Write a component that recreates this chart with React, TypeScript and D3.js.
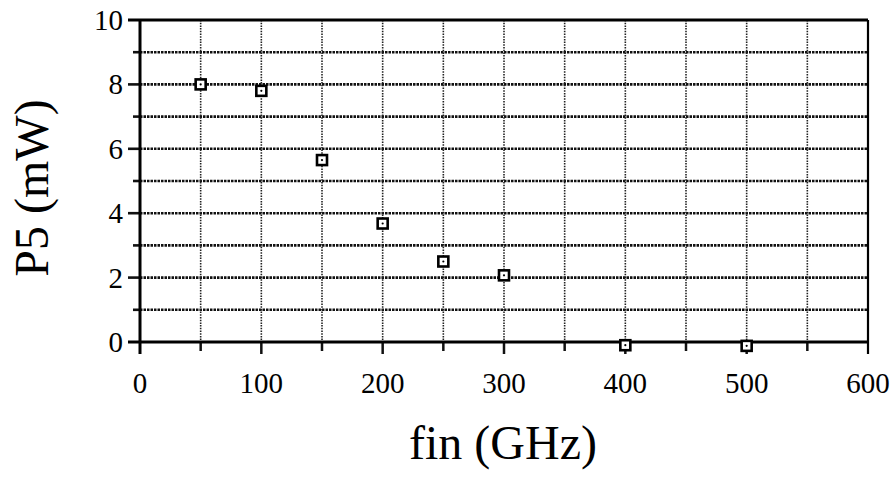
import React from "react";
import * as d3 from "d3";

const freqs = [50, 100, 150, 200, 250, 300, 400, 500];
const power = [8.0, 7.8, 5.65, 3.68, 2.5, 2.07, -0.1, -0.12];
const xTicks = [0, 100, 200, 300, 400, 500, 600];
const yTicks = [0, 2, 4, 6, 8, 10];

const App = () => {
  const width = 893;
  const height = 477;
  const margins = { top: 20, right: 25, bottom: 135, left: 140 };

  const xScale = d3
    .scaleLinear()
    .domain([0, 600])
    .range([margins.left, width - margins.right]);

  const yScale = d3
    .scaleLinear()
    .domain([0, 10])
    .range([height - margins.bottom, margins.top]);

  const serif = '"Liberation Serif", "DejaVu Serif", "Times New Roman", serif';
  const tickStyle = { fontFamily: serif, fontSize: "29px" };
  const titleStyle = { fontFamily: serif, fontSize: "48px" };
  const x0 = xScale(0);
  const x1 = xScale(600);
  const y0 = yScale(0);
  const y1 = yScale(10);

  const hGrid = d3.range(1, 10).map((v) => (
    <g key={`h${v}`}>
      <line
        x1={x0}
        x2={x1}
        y1={yScale(v)}
        y2={yScale(v)}
        stroke="#111"
        strokeWidth={2.6}
        strokeDasharray="2.5,1"
      />
      <line
        x1={x0 - (v % 2 === 0 ? 12 : 7)}
        x2={x0}
        y1={yScale(v)}
        y2={yScale(v)}
        stroke="#111"
        strokeWidth={2.6}
      />
    </g>
  ));

  const vGrid = d3.range(50, 600, 50).map((v) => (
    <g key={`v${v}`}>
      <line
        x1={xScale(v)}
        x2={xScale(v)}
        y1={y1}
        y2={y0}
        stroke="#222"
        strokeWidth={1.6}
        strokeDasharray="1.5,1.2"
      />
      <line
        x1={xScale(v)}
        x2={xScale(v)}
        y1={y0}
        y2={y0 + (v % 100 === 0 ? 12 : 9)}
        stroke="#111"
        strokeWidth={2.5}
      />
    </g>
  ));

  const markers = freqs.map((f, i) => (
    <g key={f} transform={`translate(${xScale(f)}, ${yScale(power[i])})`}>
      <rect x={-5} y={-5} width={10} height={10} fill="#fff" stroke="#000" strokeWidth={2.6} />
      <circle r={1.1} fill="#000" />
    </g>
  ));

  return (
    <svg
      width={width}
      height={height}
      style={{ position: "absolute", left: 0, top: 0, background: "#fff" }}
    >
      <g>{hGrid}</g>
      <g>{vGrid}</g>
      {/* frame */}
      <line x1={x0 - 12} x2={x1} y1={y1} y2={y1} stroke="#000" strokeWidth={3} />
      <line x1={x0 - 12} x2={x1} y1={y0} y2={y0} stroke="#000" strokeWidth={3} />
      <line x1={x0} x2={x0} y1={y1} y2={y0 + 12} stroke="#000" strokeWidth={3} />
      <line x1={x1} x2={x1} y1={y1} y2={y0 + 12} stroke="#000" strokeWidth={2.2} />

      {yTicks.map((t) => (
        <text key={`yt${t}`} style={tickStyle} x={x0 - 17} y={yScale(t) + 10} textAnchor="end">
          {t}
        </text>
      ))}
      {xTicks.map((t) => (
        <text key={`xt${t}`} style={tickStyle} x={xScale(t)} y={y0 + 51} textAnchor="middle">
          {t}
        </text>
      ))}

      <g>{markers}</g>

      <text style={titleStyle} x={503} y={459} textAnchor="middle">
        fin (GHz)
      </text>
      <text
        style={titleStyle}
        transform={`translate(48, 188) rotate(-90)`}
        textAnchor="middle"
      >
        P5 (mW)
      </text>
    </svg>
  );
};

export default App;
